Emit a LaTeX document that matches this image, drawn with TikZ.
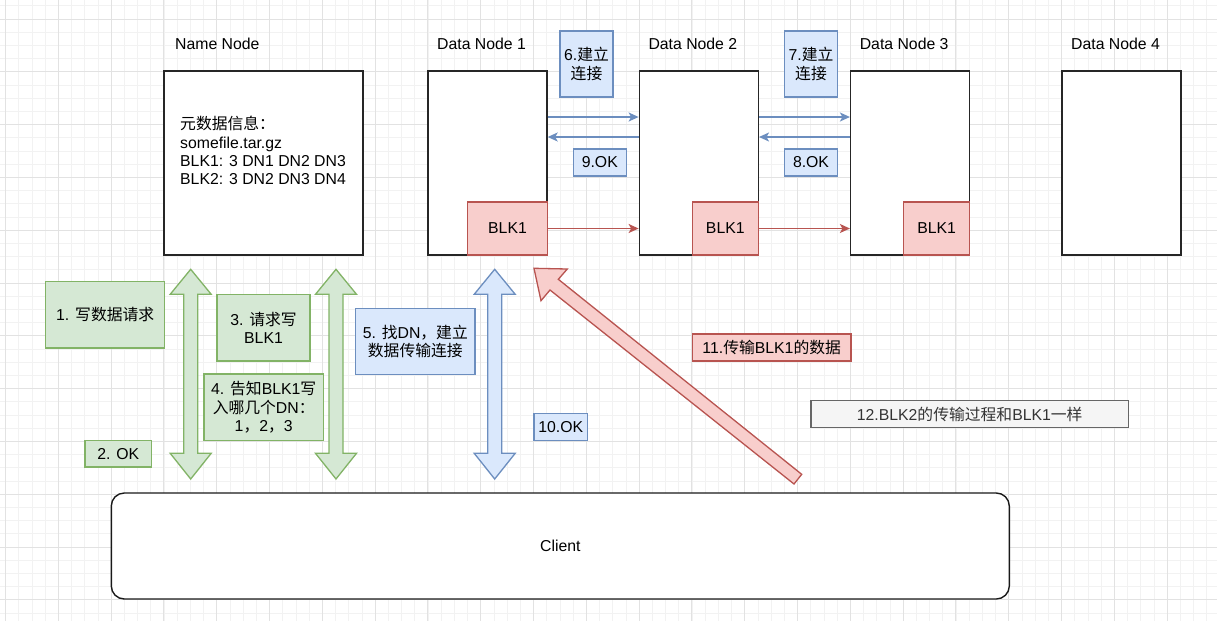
\documentclass[tikz,border=0pt]{standalone}
\usepackage{fontspec}
\setmainfont{Liberation Sans}
\newfontfamily\cjk{Noto Sans CJK SC}
\newcommand\zh[1]{{\cjk #1}}
\usetikzlibrary{arrows.meta,calc}
\definecolor{gfill}{HTML}{D5E8D4}\definecolor{gline}{HTML}{82B366}
\definecolor{bfill}{HTML}{DAE8FC}\definecolor{bline}{HTML}{6C8EBF}
\definecolor{rfill}{HTML}{F8CECC}\definecolor{rline}{HTML}{B85450}
\definecolor{nfill}{HTML}{F5F5F5}\definecolor{nline}{HTML}{666666}
\definecolor{ntext}{HTML}{333333}
\definecolor{gridmaj}{HTML}{E2E2E2}\definecolor{gridmin}{HTML}{F2F2F2}
\newcommand\mydblarrow[3]{%
  \filldraw[fill=#2, draw=#3, line width=1.3pt, line join=miter]
    (#1,269.3) -- (#1+20.5,294.3) -- (#1+7,294.3) -- (#1+7,453.3) -- (#1+20.5,453.3)
    -- (#1,479) -- (#1-20.5,453.3) -- (#1-7,453.3) -- (#1-7,294.3) -- (#1-20.5,294.3) -- cycle;}
\begin{document}
\begin{tikzpicture}[x=1pt,y=-1pt,
  font=\fontsize{15.8}{18.3}\selectfont,
  box/.style={draw=black!85, line width=1.4pt, fill=white, inner sep=0pt, rectangle},
  lab/.style={inner sep=0pt, anchor=west},
  gbox/.style={draw=gline, fill=gfill, line width=1.3pt, inner sep=0pt, align=center},
  bbox/.style={draw=bline, fill=bfill, line width=1.3pt, inner sep=0pt, align=center},
  rbox/.style={draw=rline, fill=rfill, line width=1.3pt, inner sep=0pt, align=center},
  nbox/.style={draw=nline, fill=nfill, text=ntext, line width=1.3pt, inner sep=0pt, align=center},
  barrow/.style={draw=bline, line width=1.3pt, -{Stealth[length=10pt,width=9pt,inset=2.5pt]}},
  rarrow/.style={draw=rline, line width=1.3pt, -{Stealth[length=10pt,width=9pt,inset=2.5pt]}},
]
\useasboundingbox (0,0) rectangle (1217,621);
\fill[white] (0,0) rectangle (1217,621);
% grid
\foreach \i in {0,...,92} \draw[gridmin, line width=0.8pt] ({5.5+13.2*\i},0) -- ({5.5+13.2*\i},621);
\foreach \i in {0,...,47} \draw[gridmin, line width=0.8pt] (0,{5.8+13.2*\i}) -- (1217,{5.8+13.2*\i});
\foreach \i in {0,...,23} \draw[gridmaj, line width=0.9pt] ({5.5+52.8*\i},0) -- ({5.5+52.8*\i},621);
\foreach \i in {0,...,11} \draw[gridmaj, line width=0.9pt] (0,{19+52.8*\i}) -- (1217,{19+52.8*\i});

% titles
\node[lab] (tnn) at (175,44) {Name Node};
\node[lab] (tdn1) at (437,44) {Data Node 1};
\node[lab] (tdn2) at (648.3,44) {Data Node 2};
\node[lab] (tdn3) at (859.6,44) {Data Node 3};
\node[lab] (tdn4) at (1071,44) {Data Node 4};

% main boxes
\node[box, minimum width=199pt, minimum height=184pt] (nn) at (263.5,163) {};
\node[lab, align=left] (meta) at (180,150.6) {\zh{元数据信息：}\\somefile.tar.gz\\BLK1: 3 DN1 DN2 DN3\\BLK2: 3 DN2 DN3 DN4};
\node[box, minimum width=119pt, minimum height=184pt] (dn1) at (487.5,163) {};
\node[box, minimum width=119pt, minimum height=184pt] (dn2) at (698.8,163) {};
\node[box, minimum width=119pt, minimum height=184pt] (dn3) at (910.1,163) {};
\node[box, minimum width=119pt, minimum height=184pt] (dn4) at (1121.5,163) {};

\node[rbox, minimum width=80pt, minimum height=53pt] (blk1a) at (507.5,228.5) {BLK1};
\node[rbox, minimum width=66pt, minimum height=53pt] (blk1b) at (725.3,228.5) {BLK1};
\node[rbox, minimum width=66pt, minimum height=53pt] (blk1c) at (936.6,228.5) {BLK1};

% connection arrows
\draw[barrow] ([yshift=46pt]dn1.east) -- ([yshift=46pt]dn2.west);
\draw[barrow] ([yshift=26pt]dn2.west) -- ([yshift=26pt]dn1.east);
\draw[barrow] ([yshift=46pt]dn2.east) -- ([yshift=46pt]dn3.west);
\draw[barrow] ([yshift=26pt]dn3.west) -- ([yshift=26pt]dn2.east);
\draw[rarrow] (blk1a.east) -- (blk1a.east -| dn2.west);
\draw[rarrow] (blk1b.east) -- (blk1b.east -| dn3.west);

\node[bbox, minimum width=53pt, minimum height=66pt] (s6) at (586.5,64) {6.\zh{建立}\\\zh{连接}};
\node[bbox, minimum width=53pt, minimum height=66pt] (s7) at (811,64) {7.\zh{建立}\\\zh{连接}};
\node[bbox, minimum width=53pt, minimum height=27pt] (s9) at (599.8,162.5) {9.OK};
\node[bbox, minimum width=53pt, minimum height=27pt] (s8) at (811,162.5) {8.OK};

% client
\node[draw=black!90, line width=1.4pt, fill=white, rounded corners=13pt, minimum width=898pt, minimum height=106pt] (client) at (560.3,546) {Client};

% block arrows
\mydblarrow{190.7}{gfill}{gline}
\mydblarrow{336}{gfill}{gline}
\mydblarrow{494.7}{bfill}{bline}
\filldraw[fill=rfill, draw=rline, line width=1.3pt, line join=miter]
  (534,268.3) -- (567.3,269) -- (558.3,279.3) -- (801.7,474.3) -- (794,484) -- (550,290) -- (541,300.7) -- cycle;

% step labels
\node[gbox, minimum width=119pt, minimum height=66.3pt] (s1) at (105.2,314.9) {1. \zh{写数据请求}};
\node[gbox, minimum width=66.7pt, minimum height=26.7pt] (s2) at (118.3,453.7) {2. OK};
\node[gbox, minimum width=93pt, minimum height=66.3pt] (s3) at (263.5,327.8) {3. \zh{请求写}\\BLK1};
\node[gbox, minimum width=119.3pt, minimum height=66.3pt] (s4) at (263.7,407.2) {4. \zh{告知}BLK1\zh{写}\\\zh{入哪几个}DN\zh{：}\\1\zh{，}2\zh{，}3};
\node[bbox, minimum width=119.3pt, minimum height=66pt] (s5) at (415.3,341.3) {5. \zh{找}DN\zh{，建立}\\\zh{数据传输连接}};
\node[bbox, minimum width=53.7pt, minimum height=26.6pt] (s10) at (560.8,427) {10.OK};
\node[rbox, minimum width=158.7pt, minimum height=27pt] (s11) at (771.7,347.5) {11.\zh{传输}BLK1\zh{的数据}};
\node[nbox, minimum width=317.3pt, minimum height=26.6pt] (s12) at (969.7,414) {12.BLK2\zh{的传输过程和}BLK1\zh{一样}};
\end{tikzpicture}
\end{document}
